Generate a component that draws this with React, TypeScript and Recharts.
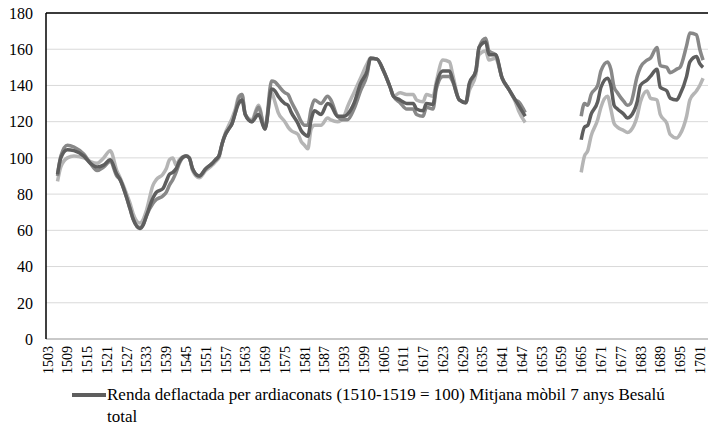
import React from 'react';
import { LineChart, Line, XAxis, YAxis, CartesianGrid, ReferenceLine } from 'recharts';

const years = [
  1506, 1507, 1509, 1511, 1514, 1516, 1518, 1520, 1522, 1524, 1525, 1527, 1528, 1529, 1531, 1532, 1533,
  1535, 1536, 1538, 1539, 1540, 1541, 1542, 1543, 1545, 1546, 1547, 1549, 1551, 1553, 1554, 1555, 1556,
  1557, 1558, 1559, 1560, 1561, 1562, 1563, 1565, 1567, 1569, 1571, 1572, 1573, 1575, 1576, 1577, 1579,
  1580, 1581, 1582, 1583, 1584, 1586, 1588, 1589, 1591, 1593, 1594, 1596, 1598, 1600, 1601, 1603, 1605,
  1607, 1608, 1610, 1612, 1614, 1615, 1617, 1618, 1620, 1621, 1623, 1625, 1626, 1628, 1630, 1631, 1633,
  1634, 1636, 1637, 1639, 1641, 1643, 1645, 1646, 1648,
  1656,
  1665, 1666, 1667, 1668, 1670, 1671, 1673, 1674, 1675, 1676, 1678, 1679, 1680, 1682, 1683, 1685, 1686,
  1688, 1689, 1691, 1692, 1694, 1695, 1697, 1698, 1700, 1701, 1702,
];

// Renda deflactada per ardiaconats (1510-1519 = 100) Mitjana mòbil 7 anys Besalú total
const totalValues: (number | null)[] = [
  91, 100, 104.5, 104, 101, 97, 95, 96, 99, 91, 88, 78, 72, 66, 61, 63, 68,
  78, 81, 83, 87, 91, 92, 94, 98, 101, 100, 94, 90, 94, 97, 99, 101, 108,
  113, 116, 119, 125, 130, 132, 124, 120, 124, 116, 138, 137, 134, 130, 129, 125, 119,
  115, 113, 112, 121, 126, 124, 130, 129, 123, 123, 124, 130, 141, 148, 155, 154.5, 148,
  139, 134, 132, 130, 130, 127, 126, 130, 129.6, 140, 148, 148, 143, 132, 130.5, 141, 148,
  161, 164, 157, 157, 144, 138, 132, 129, 123,
  null,
  110, 117, 118, 124, 131, 139, 144, 140, 129, 127, 124, 122, 123, 131, 140, 143, 145,
  149, 139, 137, 133, 132, 135, 145, 153, 156, 152, 150,
];

const seriesB: (number | null)[] = [
  90, 101, 107, 106, 102, 97, 93, 95, 98, 90, 88, 78, 72, 66, 61.5, 63, 68,
  75, 77, 79, 81, 85, 88, 92, 97, 101, 100, 94, 90, 94, 97, 99, 101, 108,
  113, 116, 119, 125, 133, 135, 124, 120, 128, 116, 142.4, 142, 140, 136, 135, 131, 124,
  120, 118, 118, 127, 132, 130, 134, 132, 123, 121, 121, 127, 137, 146, 155, 154.5, 148,
  139, 134, 130.5, 127, 127, 124, 123, 128, 127, 138, 145, 145, 142, 132, 130.5, 140, 148,
  161, 166, 159, 157, 144, 138, 132, 131, 125,
  null,
  123, 130, 129, 135, 140, 148, 153, 149, 139, 136, 131, 129, 130, 145, 150, 154, 155,
  161, 151, 150, 147, 149, 150, 162, 169, 168, 160, 154,
];

const seriesC: (number | null)[] = [
  87, 95, 100, 101, 100, 98, 97, 100, 104, 93, 89, 80, 75, 69, 64, 66, 71,
  85, 88, 91, 94, 99, 100, 96, 99, 101, 100, 93, 89, 93, 96, 98, 100, 108,
  114, 118, 122, 127, 134, 135, 124, 121, 129, 117, 136, 131, 125, 120, 117, 115, 113,
  109, 107, 105, 116, 118, 118, 122, 121, 120, 123, 128, 136, 144, 152, 155, 154.5, 148,
  139, 134, 136, 135, 135, 132, 131, 135, 134, 142, 154, 153, 146, 132, 130.5, 137, 146,
  157, 159, 154, 155, 144, 138, 131, 126, 119.5,
  null,
  92, 101, 104, 112, 121, 128, 134, 127, 119, 117, 115, 114, 115, 123, 131, 137, 133,
  132, 124, 119, 113, 111, 113, 123, 132, 137, 140, 144,
];

const xTicks = [
  1503, 1509, 1515, 1521, 1527, 1533, 1539, 1545, 1551, 1557, 1563, 1569, 1575, 1581, 1587, 1593, 1599,
  1605, 1611, 1617, 1623, 1629, 1635, 1641, 1647, 1653, 1659, 1665, 1671, 1677, 1683, 1689, 1695, 1701,
];
const yTicks = [0, 20, 40, 60, 80, 100, 120, 140, 160, 180];

const legendLabel = 'Renda deflactada per ardiaconats (1510-1519 = 100) Mitjana mòbil 7 anys Besalú total';

const data = years.map((year, i) => ({
  year,
  total: totalValues[i],
  b: seriesB[i],
  c: seriesC[i],
}));

const FONT =
  "'Liberation Serif', 'Times New Roman', Times, Tinos, 'Nimbus Roman', 'Nimbus Roman No9 L', FreeSerif, 'Noto Serif', 'DejaVu Serif', serif";
const DARK = '#5e5e5e';
const MEDIUM = '#888888';
const LIGHT = '#b5b5b5';

const XTick = (props: any) => {
  const { x, y, payload } = props;
  return (
    <text
      x={x}
      y={y}
      transform={`rotate(-90, ${x}, ${y})`}
      dx={-7}
      dy="0.36em"
      textAnchor="end"
      fontFamily={FONT}
      fontSize={14}
      fill="#000"
    >
      {payload.value}
    </text>
  );
};

const YTick = (props: any) => {
  const { x, y, payload } = props;
  return (
    <text x={x} y={y} dy="0.36em" textAnchor="end" fontFamily={FONT} fontSize={16} fill="#000">
      {payload.value}
    </text>
  );
};

export default function App() {
  return (
    <div style={{ position: 'absolute', left: 0, top: 0, width: 708, height: 443, background: '#fff' }}>
      <LineChart
        width={708}
        height={443}
        data={data}
        margin={{ top: 13, right: 0, bottom: 64, left: 0 }}
      >
        <CartesianGrid vertical={false} stroke="#d9d9d9" strokeWidth={1} />
        <XAxis
          dataKey="year"
          type="number"
          domain={[1502.5, 1703.5]}
          ticks={xTicks}
          interval={0}
          height={40}
          tickLine={false}
          tickSize={0}
          tickMargin={0}
          axisLine={{ stroke: '#a6a6a6', strokeWidth: 1 }}
          tick={<XTick />}
        />
        <YAxis
          domain={[0, 180]}
          ticks={yTicks}
          interval={0}
          width={46}
          tickLine={false}
          tickSize={0}
          tickMargin={13}
          axisLine={{ stroke: '#000', strokeWidth: 1.5 }}
          tick={<YTick />}
        />
        <ReferenceLine y={180} stroke="#000" strokeWidth={1.5} />
        <Line dataKey="c" stroke={LIGHT} strokeWidth={3.5} type="monotone" dot={false} connectNulls={false} isAnimationActive={false} />
        <Line dataKey="b" stroke={MEDIUM} strokeWidth={3.5} type="monotone" dot={false} connectNulls={false} isAnimationActive={false} />
        <Line dataKey="total" name={legendLabel} stroke={DARK} strokeWidth={3.5} type="monotone" dot={false} connectNulls={false} isAnimationActive={false} />
      </LineChart>
      <div
        style={{
          position: 'absolute',
          left: 72,
          top: 384,
          display: 'flex',
          alignItems: 'flex-start',
          fontFamily: FONT,
          fontSize: 17,
          lineHeight: '22px',
          color: '#000',
        }}
      >
        <div style={{ width: 34, height: 4, background: DARK, marginTop: 9 }} />
        <div style={{ width: 565, marginLeft: 1 }}>{legendLabel}</div>
      </div>
    </div>
  );
}
